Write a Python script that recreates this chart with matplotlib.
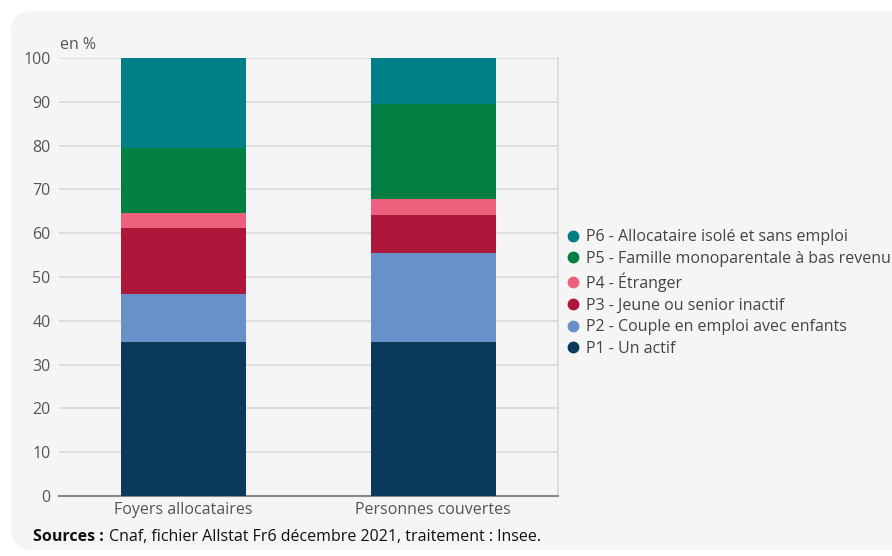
import matplotlib.pyplot as plt
from matplotlib.patches import FancyBboxPatch
from matplotlib.lines import Line2D

plt.rcParams["font.family"] = ["Open Sans", "DejaVu Sans"]

categories = ["Foyers allocataires", "Personnes couvertes"]
labels = [
    "P1 - Un actif",
    "P2 - Couple en emploi avec enfants",
    "P3 - Jeune ou senior inactif",
    "P4 - Étranger",
    "P5 - Famille monoparentale à bas revenu",
    "P6 - Allocataire isolé et sans emploi",
]
foyers = [35.1, 11.0, 15.2, 3.2, 14.9, 20.6]
personnes = [35.1, 20.3, 8.7, 3.6, 21.7, 10.6]
colors = ["#093a5a", "#6990c8", "#ad1739", "#ec617d", "#027f43", "#007f86"]

fs = 11.5
fig = plt.figure(figsize=(8.92, 5.56), dpi=100)
fig.patch.set_facecolor("white")

# grey rounded card behind the chart
bg = fig.add_axes([0, 0, 1, 1], zorder=-1)
bg.set_axis_off()
bg.set_xlim(0, 892)
bg.set_ylim(0, 556)
bg.add_patch(FancyBboxPatch((11, 6), 1000, 539,
                            boxstyle="round,pad=0,rounding_size=22",
                            facecolor="#f5f5f5", edgecolor="none"))

ax = fig.add_axes([59 / 892, 60 / 556, 499 / 892, 438 / 556], zorder=1)
ax.set_facecolor("#f5f5f5")

x = range(len(categories))
bottom = [0, 0]
for i in range(len(labels)):
    vals = [foyers[i], personnes[i]]
    ax.bar(x, vals, width=0.5, bottom=bottom, color=colors[i], zorder=3)
    bottom = [bottom[0] + vals[0], bottom[1] + vals[1]]

ax.set_xlim(-0.5, 1.5)
ax.set_ylim(0, 100)
ax.set_yticks(range(0, 101, 10))
ax.set_xticks(list(x))
ax.set_xticklabels(categories)
ax.yaxis.grid(True, color="#d9d9d9", linewidth=1.2, zorder=0)
ax.tick_params(axis="y", length=0, labelsize=fs, labelcolor="#555555", pad=6)
ax.tick_params(axis="x", length=0, labelsize=fs, labelcolor="#555555", pad=4)
for s in ["top", "left"]:
    ax.spines[s].set_visible(False)
ax.spines["right"].set_color("#d9d9d9")
ax.spines["right"].set_linewidth(1.2)
ax.spines["bottom"].set_color("#888888")
ax.spines["bottom"].set_linewidth(1.5)

fig.text(60 / 892, 1 - 44.5 / 556, "en %", fontsize=fs, color="#555555",
         va="center", ha="left")

handles = [Line2D([], [], marker="o", linestyle="none", markersize=7.5,
                  color=colors[i]) for i in range(len(labels))][::-1]
leg = fig.legend(handles, labels[::-1], loc="center left",
                 bbox_to_anchor=(559 / 892, 1 - 293 / 556), frameon=False,
                 fontsize=fs, handletextpad=0.3, labelspacing=0.35,
                 handlelength=1.0, borderaxespad=0)
for t in leg.get_texts():
    t.set_color("#444444")

src = fig.text(33 / 892, 1 - 537 / 556, "Sources :", fontsize=fs,
               fontweight="bold", va="center", ha="left", color="#111111")
fig.canvas.draw()
bb = src.get_window_extent()
fig.text((bb.x1 + 5) / 892, 1 - 537 / 556,
         "Cnaf, fichier Allstat Fr6 décembre 2021, traitement : Insee.",
         fontsize=fs, va="center", ha="left", color="#111111")

fig.savefig("out.png", dpi=100)
